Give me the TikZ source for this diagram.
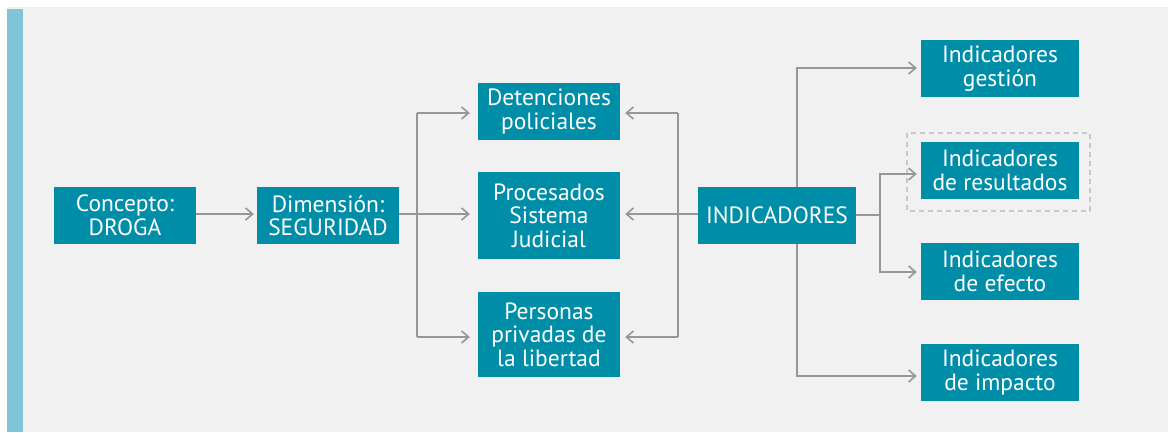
\documentclass[tikz,border=0pt]{standalone}
\usepackage{fontspec}
\setmainfont{PT Sans}
\usetikzlibrary{arrows.meta}
\definecolor{teal}{RGB}{0,141,168}
\definecolor{bgg}{RGB}{241,241,241}
\definecolor{barc}{RGB}{128,198,214}
\definecolor{arr}{RGB}{150,150,155}
\definecolor{dashc}{RGB}{200,200,200}
\begin{document}
\begin{tikzpicture}[x=1pt,y=-1pt,
  box/.style={fill=teal,text=white,inner sep=0pt,align=center,
    font=\fontsize{23.5}{23.5}\selectfont},
  conn/.style={draw=arr,line width=1.6pt},
  arrow/.style={conn,-{Straight Barb[length=7pt,width=12pt,line width=1.6pt]}}]
\useasboundingbox (0,0) rectangle (1168,432);
\fill[bgg] (7,7) rectangle (1168,432);
\fill[barc] (7,9) rectangle (23,432);
% boxes
\node[box,minimum width=142pt,minimum height=57pt] (con) at (125,215.5) {Concepto:\\DROGA};
\node[box,minimum width=142pt,minimum height=57pt] (dim) at (328,215.5) {Dimensión:\\SEGURIDAD};
\node[box,minimum width=142pt,minimum height=57pt] (det) at (549,111.5) {Detenciones\\policiales};
\node[box,minimum width=142pt,minimum height=87pt] (pro) at (549,215.5) {Procesados\\Sistema\\Judicial};
\node[box,minimum width=142pt,minimum height=85pt] (per) at (549,334.5) {Personas\\privadas de\\la libertad};
\node[box,minimum width=158pt,minimum height=57pt] (ind) at (777,215.5) {INDICADORES};
\node[box,minimum width=158pt,minimum height=57pt] (ges) at (1000,68.5) {Indicadores\\gestión};
\node[box,minimum width=158pt,minimum height=57pt] (res) at (1000,170.5) {Indicadores\\de resultados};
\node[box,minimum width=158pt,minimum height=57pt] (efe) at (1000,271.5) {Indicadores\\de efecto};
\node[box,minimum width=158pt,minimum height=57pt] (imp) at (1000,372.5) {Indicadores\\de impacto};
\draw[dashc,dashed,line width=1.2pt,dash pattern=on 5pt off 4pt] (907,133) rectangle (1090,211);
% coordinates
\coordinate (lb) at (417,214);
\coordinate (rb) at (678,214);
\coordinate (rj) at (880,215);
% connectors
\draw[arrow] (con.east |- 0,214) -- ([xshift=-3pt]dim.west |- 0,214);
\draw[conn] (dim.east |- 0,214) -- (lb);
\draw[arrow] (lb |- 0,113) -- ([xshift=-8pt]det.west |- 0,113);
\draw[arrow] (lb) -- ([xshift=-8pt]pro.west |- 0,214);
\draw[arrow] (lb |- 0,337) -- ([xshift=-8pt]per.west |- 0,337);
\draw[conn] (lb |- 0,113) -- (lb |- 0,337);
\draw[conn] (ind.west |- 0,214) -- (rb);
\draw[conn] (rb |- 0,113) -- (rb |- 0,337);
\draw[arrow] (rb |- 0,113) -- ([xshift=5pt]det.east |- 0,113);
\draw[arrow] (rb) -- ([xshift=5pt]pro.east |- 0,214);
\draw[arrow] (rb |- 0,337) -- ([xshift=5pt]per.east |- 0,337);
\draw[arrow] (797,187) -- (797,68) -- ([xshift=-4pt]ges.west |- 0,68);
\draw[arrow] (797,244) -- (797,376) -- ([xshift=-4pt]imp.west |- 0,376);
\draw[conn] (ind.east |- 0,215) -- (rj);
\draw[arrow] (rj) -- (880,174) -- ([xshift=-4pt]res.west |- 0,174);
\draw[arrow] (rj) -- (880,272) -- ([xshift=-4pt]efe.west |- 0,272);
\end{tikzpicture}
\end{document}
